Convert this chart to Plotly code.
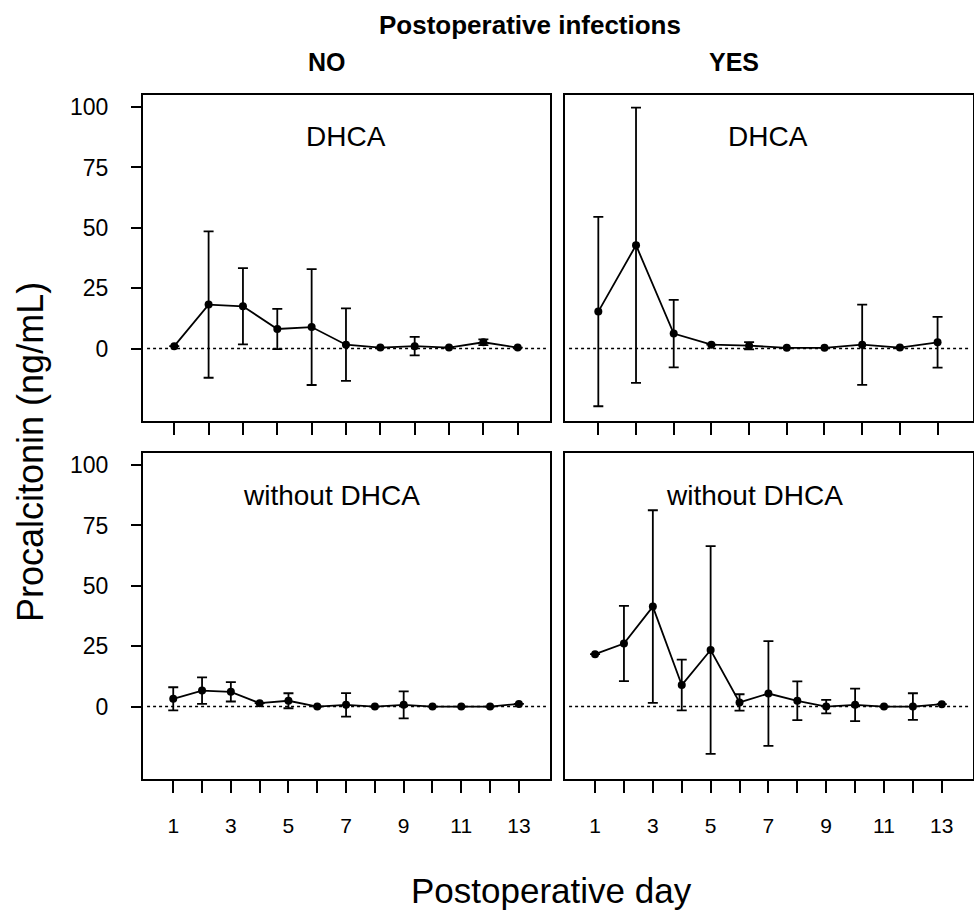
import plotly.graph_objects as go

# ---------------- data ----------------
days_top_no = [1, 2, 3, 4, 5, 6, 7, 8, 9, 10, 11]
pct_top_no = [1.0, 18.2, 17.5, 8.1, 8.9, 1.6, 0.4, 1.0, 0.4, 2.6, 0.4]
err_top_no = [0, 30.3, 15.8, 8.3, 24.0, 15.0, 0, 3.8, 0, 1.2, 0]

days_top_yes = [1, 2, 3, 4, 5, 6, 7, 8, 9, 10]
pct_top_yes = [15.3, 42.8, 6.2, 1.6, 1.2, 0.3, 0.3, 1.6, 0.4, 2.6]
err_top_yes = [39.2, 57.0, 14.0, 0, 1.5, 0, 0, 16.6, 0, 10.5]

days_bot = [1, 2, 3, 4, 5, 6, 7, 8, 9, 10, 11, 12, 13]
pct_bot_no = [3.2, 6.6, 6.1, 1.4, 2.4, 0.0, 0.7, 0.0, 0.7, 0.0, 0.0, 0.0, 1.1]
err_bot_no = [4.8, 5.5, 4.0, 0, 3.1, 0, 4.9, 0, 5.6, 0, 0, 0, 0]
pct_bot_yes = [21.7, 26.1, 41.4, 8.9, 23.4, 1.7, 5.4, 2.4, 0.0, 0.7, 0.0, 0.0, 1.0]
err_bot_yes = [0, 15.6, 39.9, 10.5, 43.0, 3.4, 21.7, 8.0, 2.8, 6.7, 0, 5.5, 0]

bottom_tick_vals = [1, 2, 3, 4, 5, 6, 7, 8, 9, 10, 11, 12, 13]
bottom_tick_text = ["1", "", "3", "", "5", "", "7", "", "9", "", "11", "", "13"]
y_tick_vals = [0, 25, 50, 75, 100]

panel_labels = ["DHCA", "DHCA", "without DHCA", "without DHCA"]
col_labels = ["NO", "YES"]
super_title = "Postoperative infections"
x_title = "Postoperative day"
y_title = "Procalcitonin (ng/mL)"

# ---------------- layout geometry ----------------
W, H = 974, 912
FONT = "Liberation Sans, Arial, Helvetica, sans-serif"


def px_x(x):
    return x / W


def px_y(y):
    return 1 - y / H


left_dom = [px_x(143), px_x(550)]
right_dom = [px_x(565), px_x(973)]
top_dom = [px_y(421), px_y(95)]
bot_dom = [px_y(779), px_y(453)]

fig = go.Figure()

panels = [
    # (xaxis, yaxis, x, y, err)
    ("x", "y", days_top_no, pct_top_no, err_top_no),
    ("x2", "y2", days_top_yes, pct_top_yes, err_top_yes),
    ("x3", "y3", days_bot, pct_bot_no, err_bot_no),
    ("x4", "y4", days_bot, pct_bot_yes, err_bot_yes),
]

for xa, ya, xs, ys, es in panels:
    # dotted zero reference line
    fig.add_shape(type="line", xref=f"{xa} domain", yref=ya,
                  x0=0.01, x1=0.99, y0=0, y1=0, layer="below",
                  line=dict(color="black", width=1.5, dash="dot"))
    fig.add_trace(go.Scatter(
        x=xs, y=ys, xaxis=xa, yaxis=ya,
        mode="lines+markers",
        line=dict(color="black", width=1.8),
        marker=dict(color="black", size=8),
        error_y=dict(type="data", array=es, visible=True,
                     color="black", thickness=1.8, width=5),
        showlegend=False, hoverinfo="skip",
    ))

common_x = dict(showline=True, linecolor="black", linewidth=2, mirror=True,
                ticks="outside", ticklen=12, tickwidth=1.8, tickcolor="black",
                showgrid=False, zeroline=False,
                tickfont=dict(family=FONT, size=21, color="black"))
common_y = dict(showline=True, linecolor="black", linewidth=2, mirror=True,
                showgrid=False, zeroline=False, range=[-30, 105])

fig.update_layout(
    width=W, height=H,
    margin=dict(l=0, r=0, t=0, b=0),
    paper_bgcolor="white", plot_bgcolor="white",
    font=dict(family=FONT, color="black"),
    xaxis=dict(common_x, domain=left_dom, anchor="y", range=[0.09, 11.94],
               tickvals=days_top_no, showticklabels=False),
    yaxis=dict(common_y, domain=top_dom, anchor="x", tickvals=y_tick_vals,
               ticks="outside", ticklen=10, tickwidth=1.8, tickcolor="black",
               tickfont=dict(family=FONT, size=23, color="black"),
               ticklabelstandoff=18),
    xaxis2=dict(common_x, domain=right_dom, anchor="y2", range=[0.116, 10.94],
                tickvals=days_top_yes, showticklabels=False),
    yaxis2=dict(common_y, domain=top_dom, anchor="x2", tickvals=y_tick_vals,
                ticks="", showticklabels=False),
    xaxis3=dict(common_x, domain=left_dom, anchor="y3", range=[-0.05, 14.08],
                tickvals=bottom_tick_vals, ticktext=bottom_tick_text,
                ticklabelstandoff=15),
    yaxis3=dict(common_y, domain=bot_dom, anchor="x3", tickvals=y_tick_vals,
                ticks="outside", ticklen=10, tickwidth=1.8, tickcolor="black",
                tickfont=dict(family=FONT, size=23, color="black"),
                ticklabelstandoff=18),
    xaxis4=dict(common_x, domain=right_dom, anchor="y4", range=[-0.04, 14.08],
                tickvals=bottom_tick_vals, ticktext=bottom_tick_text,
                ticklabelstandoff=15),
    yaxis4=dict(common_y, domain=bot_dom, anchor="x4", tickvals=y_tick_vals,
                ticks="", showticklabels=False),
)


def add_text(text, x, y, size, bold=False, angle=0):
    fig.add_annotation(
        text=f"<b>{text}</b>" if bold else text,
        x=px_x(x), y=px_y(y), xref="paper", yref="paper",
        xanchor="center", yanchor="middle", showarrow=False,
        textangle=angle,
        font=dict(family=FONT, size=size, color="black"),
    )


add_text(super_title, 530, 25, 26, bold=True)
add_text(col_labels[0], 327, 62, 25, bold=True)
add_text(col_labels[1], 734, 62, 25, bold=True)

add_text(panel_labels[0], 346, 136, 28)
add_text(panel_labels[1], 768, 136, 28)
add_text(panel_labels[2], 331, 495, 28)
add_text(panel_labels[3], 754, 495, 28)

add_text(x_title, 551, 890, 35)
add_text(y_title, 30, 452, 36, angle=-90)

fig.write_html(
    "out.html",
    config={"displayModeBar": False},
    post_script="document.body.style.margin='0px';"
                "document.body.style.overflow='hidden';",
)
